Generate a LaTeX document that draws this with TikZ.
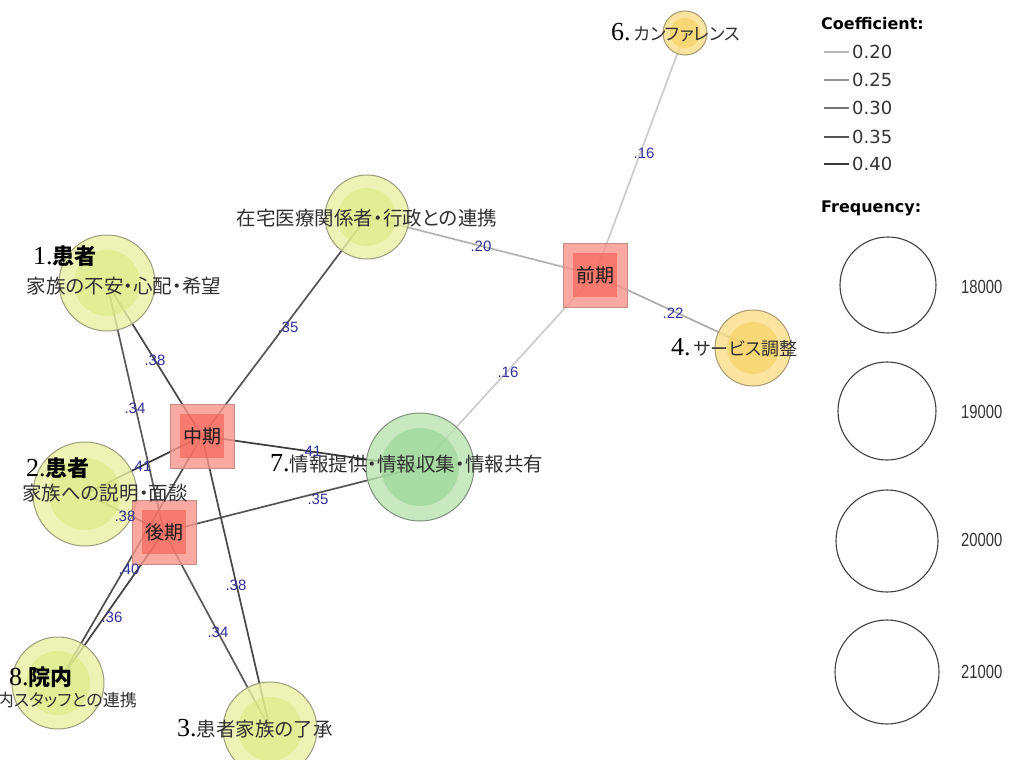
\documentclass[tikz,border=0pt]{standalone}
\usepackage{fontspec}
\setmainfont{Liberation Serif}
\newfontfamily\jp{Noto Sans CJK JP}[RawFeature=+palt]
\newfontfamily\dvs{DejaVu Sans}
\newfontfamily\las{Liberation Sans}
\usetikzlibrary{backgrounds}

% node fills (outer ring / inner core / outline)
\definecolor{ygOut}{HTML}{E7F0A1}
\definecolor{ygIn}{HTML}{D8E978}
\definecolor{ygLine}{HTML}{9C9C7A}
\definecolor{orOut}{HTML}{FADC88}
\definecolor{orIn}{HTML}{F5CD50}
\definecolor{orLine}{HTML}{A89A6E}
\definecolor{grOut}{HTML}{BAE2B0}
\definecolor{grIn}{HTML}{8CD08A}
\definecolor{grLine}{HTML}{7E8E7C}
\definecolor{sqOut}{HTML}{F9948B}
\definecolor{sqIn}{HTML}{F35C4F}
\definecolor{sqLine}{HTML}{C98A86}
\definecolor{navyLab}{HTML}{2F2F9A}
\definecolor{jpText}{HTML}{303030}

\newcommand\numlab[1]{{\rmfamily\color{black}\fontsize{26}{26}\selectfont #1}}

\begin{document}
\begin{tikzpicture}[x=1pt,y=-1pt,
  bub/.style={circle, draw=#1Line, line width=1pt, fill=#1Out, fill opacity=0.8, inner sep=0},
  bubin/.style={circle, fill=#1In, fill opacity=0.5, draw=none, inner sep=0},
  sqbox/.style={rectangle, draw=sqLine, line width=1pt, fill=sqOut, fill opacity=0.8, minimum size=64pt, inner sep=0},
  sqcore/.style={rectangle, fill=sqIn, fill opacity=0.6, text opacity=1, minimum size=44pt, inner sep=0,
                 text=black!90, font=\jp\fontsize{19}{19}\selectfont},
  ed/.style={line width=1.7pt, draw=black!#1},
  elab/.style={inner sep=0, text=navyLab, font=\las\fontsize{15}{15}\selectfont},
  jplab/.style={inner sep=0, text=jpText, font=\jp\fontsize{19.5}{19.5}\selectfont},
  leghead/.style={inner sep=0, anchor=west, font=\dvs\bfseries\fontsize{16}{16}\selectfont},
  legnum/.style={inner sep=0, anchor=west, text=black!80, font=\dvs\fontsize{18}{18}\selectfont},
  freqnum/.style={inner sep=0, anchor=west, text=black!80, font=\las\fontsize{19}{19}\selectfont},
  freqc/.style={circle, draw=black!75, line width=1.1pt, inner sep=0}
]
\useasboundingbox (0,0) rectangle (1020,760);
\begin{scope}
\clip (0,0) rectangle (1020,760);

% ---- word nodes ----
\node[bub=yg, minimum size=96pt] (n1) at (107,283) {};
\node[bubin=yg, minimum size=66pt] (n1c) at (n1) {};
\node[bub=yg, minimum size=104pt] (n2) at (85,494) {};
\node[bubin=yg, minimum size=72pt] (n2c) at (n2) {};
\node[bub=yg, minimum size=94pt] (n3) at (270,729) {};
\node[bubin=yg, minimum size=64pt] (n3c) at (n3) {};
\node[bub=yg, minimum size=92pt] (n8) at (58,683) {};
\node[bubin=yg, minimum size=64pt] (n8c) at (n8) {};
\node[bub=yg, minimum size=84pt] (nz) at (367,217) {};
\node[bubin=yg, minimum size=58pt] (nzc) at (nz) {};
\node[bub=gr, minimum size=108pt] (n7) at (420,467) {};
\node[bubin=gr, minimum size=78pt] (n7c) at (n7) {};
\node[bub=or, minimum size=76pt] (n4) at (753,348) {};
\node[bubin=or, minimum size=52pt] (n4c) at (n4) {};
\node[bub=or, minimum size=44pt] (n6) at (685,33) {};
\node[bubin=or, minimum size=30pt] (n6c) at (n6) {};

% ---- period nodes ----
\node[sqbox] (zenki) at (595,275) {};
\node[sqcore] (zenkiC) at (zenki) {前期};
\node[sqbox] (chuki) at (202,436) {};
\node[sqcore] (chukiC) at (chuki) {中期};
\node[sqbox] (koki) at (164,532) {};
\node[sqcore] (kokiC) at (koki) {後期};

% ---- connectors (behind the nodes) ----
\begin{pgfonlayer}{background}
\draw[ed=20] (zenki.center) -- (n6.center);
\draw[ed=30] (zenki.center) -- (nz.center);
\draw[ed=33] (zenki.center) -- (n4.center);
\draw[ed=20] (zenki.center) -- (n7.center);
\draw[ed=67] (chuki.center) -- (nz.center);
\draw[ed=72] (chuki.center) -- (n1.center);
\draw[ed=77] (chuki.center) -- (n7.center);
\draw[ed=77] (chuki.center) -- (n2.center);
\draw[ed=69] (chuki.center) -- (n8.center);
\draw[ed=72] (chuki.center) -- (n3.center);
\draw[ed=65] (koki.center) -- (n1.center);
\draw[ed=67] (koki.center) -- (n7.center);
\draw[ed=72] (koki.center) -- (n2.center);
\draw[ed=75] (koki.center) -- (n8.center);
\draw[ed=65] (koki.center) -- (n3.center);
\end{pgfonlayer}

% ---- word labels ----
\node[jplab, anchor=west] (t1a) at (33,256) {\numlab{1.}{\bfseries\color{black}\fontsize{22}{22}\selectfont 患者}};
\node[jplab] (t1b) at (124,286) {家族の不安・心配・希望};
\node[jplab, anchor=west] (t2a) at (26,468) {\numlab{2.}{\bfseries\color{black}\fontsize{22}{22}\selectfont 患者}};
\node[jplab] (t2b) at (105,493) {家族への説明・面談};
\node[jplab, anchor=west] (t8a) at (9,677) {\numlab{8.}{\bfseries\color{black}\fontsize{22}{22}\selectfont 院内}};
\node[jplab, anchor=east] (t8b) at (137,700) {{\fontsize{17}{17}\selectfont 院内スタッフとの連携}};
\node[jplab, anchor=west] (t3) at (177,729) {\numlab{3.}患者家族の了承};
\node[jplab, anchor=west] (t6) at (611,33) {\numlab{6.}\,{\fontsize{17.5}{17.5}\selectfont カンファレンス}};
\node[jplab, anchor=west] (t4) at (671,348) {\numlab{4.}\,{\fontsize{18}{18}\selectfont サービス調整}};
\node[jplab, anchor=west] (t7) at (270,464) {\numlab{7.}情報提供・情報収集・情報共有};
\node[jplab] (tz) at (367,218) {在宅医療関係者・行政との連携};

% ---- coefficient labels ----
\node[elab] (e1) at (644,153) {.16};
\node[elab] (e2) at (481,246) {.20};
\node[elab] (e3) at (673,313) {.22};
\node[elab] (e4) at (508,372) {.16};
\node[elab] (e5) at (288,327) {.35};
\node[elab] (e6) at (155,360) {.38};
\node[elab] (e7) at (135,408) {.34};
\node[elab] (e8) at (311,451) {.41};
\node[elab] (e9) at (141,466) {.41};
\node[elab] (e10) at (318,499) {.35};
\node[elab] (e11) at (125,516) {.38};
\node[elab] (e12) at (129,569) {.40};
\node[elab] (e13) at (112,617) {.36};
\node[elab] (e14) at (236,585) {.38};
\node[elab] (e15) at (218,632) {.34};

% ---- legend: coefficient ----
\node[leghead] (lc) at (821,24) {Coefficient:};
\node[legnum] (c20) at (852,52) {0.20};
\node[legnum] (c25) at (852,80) {0.25};
\node[legnum] (c30) at (852,108) {0.30};
\node[legnum] (c35) at (852,137) {0.35};
\node[legnum] (c40) at (852,164) {0.40};
\draw[line width=2pt, draw=black!28] (c20.west) ++(-3,0) -- ++(-25,0);
\draw[line width=2pt, draw=black!42] (c25.west) ++(-3,0) -- ++(-25,0);
\draw[line width=2pt, draw=black!55] (c30.west) ++(-3,0) -- ++(-25,0);
\draw[line width=2pt, draw=black!67] (c35.west) ++(-3,0) -- ++(-25,0);
\draw[line width=2pt, draw=black!78] (c40.west) ++(-3,0) -- ++(-25,0);

% ---- legend: frequency ----
\node[leghead] (lf) at (821,208) {Frequency:};
\node[freqc, minimum size=96pt] (f1) at (888,285) {};
\node[freqc, minimum size=98pt] (f2) at (887,411) {};
\node[freqc, minimum size=102pt] (f3) at (887,541) {};
\node[freqc, minimum size=104pt] (f4) at (887,672) {};
\node[freqnum] (f1t) at (961,287) {\scalebox{0.78}[1]{18000}};
\node[freqnum] (f2t) at (961,412) {\scalebox{0.78}[1]{19000}};
\node[freqnum] (f3t) at (961,540) {\scalebox{0.78}[1]{20000}};
\node[freqnum] (f4t) at (961,672) {\scalebox{0.78}[1]{21000}};
\end{scope}
\end{tikzpicture}
\end{document}
